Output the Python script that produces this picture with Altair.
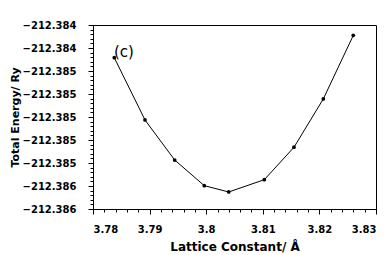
import altair as alt
import pandas as pd

# Data
lattice = [3.78376, 3.78919, 3.79443, 3.79966, 3.80398, 3.81027, 3.81551, 3.82069, 3.82599]
energy = [-212.384484, -212.385026, -212.385374, -212.385597, -212.385652,
          -212.385545, -212.385263, -212.384843, -212.384290]

x_major = [3.78, 3.79, 3.80, 3.81, 3.82, 3.83]
y_major = [-212.3842, -212.3844, -212.3846, -212.3848, -212.3850,
           -212.3852, -212.3854, -212.3856, -212.3858]

x_minor = [round(3.78 + 0.002 * i, 4) for i in range(26)]
y_minor = [-212.3858 + 0.00004 * i for i in range(41)]

df = pd.DataFrame({"a": lattice, "e": energy})

xscale = alt.Scale(domain=[3.78, 3.83], nice=False, zero=False)
yscale = alt.Scale(domain=[-212.3858, -212.3842], nice=False, zero=False)

lab = dict(labelFont="DejaVu Sans", labelFontWeight="bold", labelFontSize=10,
           labelColor="black", tickColor="black", domainColor="black",
           titleFont="DejaVu Sans", titleFontWeight="bold",
           titleColor="black", grid=False)

line = alt.Chart(df).mark_line(color="black", strokeWidth=1).encode(
    x=alt.X("a:Q", scale=xscale,
            axis=alt.Axis(orient="bottom", values=x_major, format="~g",
                          tickSize=5, labelPadding=10, titlePadding=7,
                          title="Lattice Constant/ Å", titleFontSize=12, **lab)),
    y=alt.Y("e:Q", scale=yscale,
            axis=alt.Axis(orient="left", values=y_major, format=".3f",
                          tickSize=5, labelPadding=12, titlePadding=2,
                          title="Total Energy/ Ry", titleFontSize=11, **lab)),
)

pts = alt.Chart(df).mark_point(filled=True, color="black", size=14, opacity=1).encode(
    x=alt.X("a:Q", scale=xscale,
            axis=alt.Axis(orient="bottom", values=x_minor, labels=False, domain=False,
                          tickSize=3, title=None, tickColor="black", grid=False)),
    y=alt.Y("e:Q", scale=yscale,
            axis=alt.Axis(orient="left", values=y_minor, labels=False, domain=False,
                          tickSize=3, title=None, tickColor="black", grid=False)),
)

label = alt.Chart(pd.DataFrame({"t": ["(c)"]})).mark_text(
    align="left", baseline="middle", font="DejaVu Sans", fontSize=15, color="black"
).encode(x=alt.value(21), y=alt.value(27), text="t:N")

chart = alt.layer(line, pts, label).resolve_axis(
    x="independent", y="independent"
).properties(
    width=283, height=184,
    autosize=alt.AutoSizeParams(type="none"),
    padding={"left": 85, "top": 17, "right": 8, "bottom": 46},
).configure_view(stroke="black", strokeWidth=1)

chart.save("out.html", embed_options={"renderer": "svg", "actions": False})
